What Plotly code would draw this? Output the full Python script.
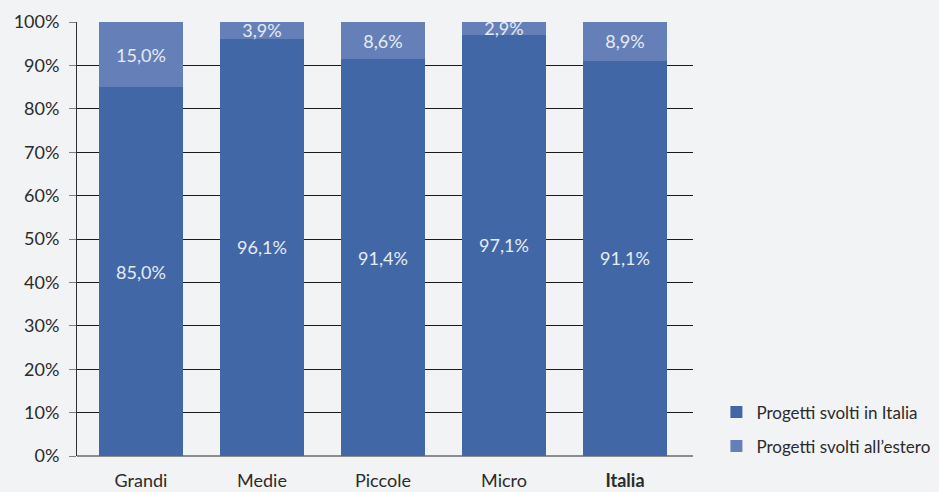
import plotly.graph_objects as go

categories = ["Grandi", "Medie", "Piccole", "Micro", "Italia"]
tick_labels = ["Grandi", "Medie", "Piccole", "Micro", "<b>Italia</b>"]
italia = [85.0, 96.1, 91.4, 97.1, 91.1]
estero = [15.0, 3.9, 8.6, 2.9, 8.9]
series_names = ["Progetti svolti in Italia", "Progetti svolti all\u2019estero"]

def fmt(v):
    return f"{v:.1f}".replace(".", ",") + "%"

FONT = "Lato"
BG = "#f2f3f5"
fig = go.Figure()
fig.add_trace(go.Bar(
    x=categories, y=italia, name=series_names[0], legendgroup="a",
    marker=dict(color="#4267a7", line=dict(width=0)),
    text=[fmt(v) for v in italia], textposition="inside", insidetextanchor="middle",
    textfont=dict(color="#e6ebf3", size=18, family=FONT),
    width=0.694, hoverinfo="skip",
))
fig.add_trace(go.Bar(
    x=categories, y=estero, name=series_names[1], legendgroup="b",
    marker=dict(color="#6580b8", line=dict(width=0)),
    text=[fmt(v) for v in estero], textposition="inside", insidetextanchor="middle",
    textfont=dict(color="#e6ebf3", size=18, family=FONT),
    width=0.694, hoverinfo="skip",
))

fig.update_layout(
    width=939, height=492,
    barmode="stack",
    paper_bgcolor=BG, plot_bgcolor=BG,
    margin=dict(l=77, r=246, t=22, b=36, autoexpand=False),
    font=dict(family=FONT, size=18, color="#2b2b2b"),
    uniformtext=dict(minsize=17, mode="show"),
    showlegend=True,
    legend=dict(
        x=1.038, xanchor="left", y=0.142, yanchor="top",
        traceorder="grouped", tracegroupgap=9,
        font=dict(size=17, color="#2b2b2b", family=FONT),
        bgcolor="rgba(0,0,0,0)", itemwidth=30,
    ),
    xaxis=dict(
        range=[-0.529, 4.562], tickmode="array", tickvals=categories, ticktext=tick_labels,
        showgrid=False, showline=False, ticks="", tickfont=dict(size=18, color="#2b2b2b"),
        ticklabelstandoff=12, automargin=False, fixedrange=True,
    ),
    yaxis=dict(
        range=[0, 100], tickvals=list(range(0, 101, 10)),
        ticktext=[f"{v}%" for v in range(0, 101, 10)],
        showgrid=True, gridcolor="#1a1a1a", gridwidth=1,
        showline=True, linecolor="#333333", linewidth=1,
        ticks="outside", ticklen=7, tickcolor="#808080", tickwidth=1,
        zeroline=True, zerolinecolor="#8c8c8c", zerolinewidth=2,
        tickfont=dict(size=18, color="#2b2b2b"), ticklabelstandoff=6,
        automargin=False, fixedrange=True,
    ),
)

fig.write_html(
    "out.html",
    config={"displayModeBar": False},
    post_script="document.body.style.margin='0';document.body.style.background='%s';" % BG,
)
